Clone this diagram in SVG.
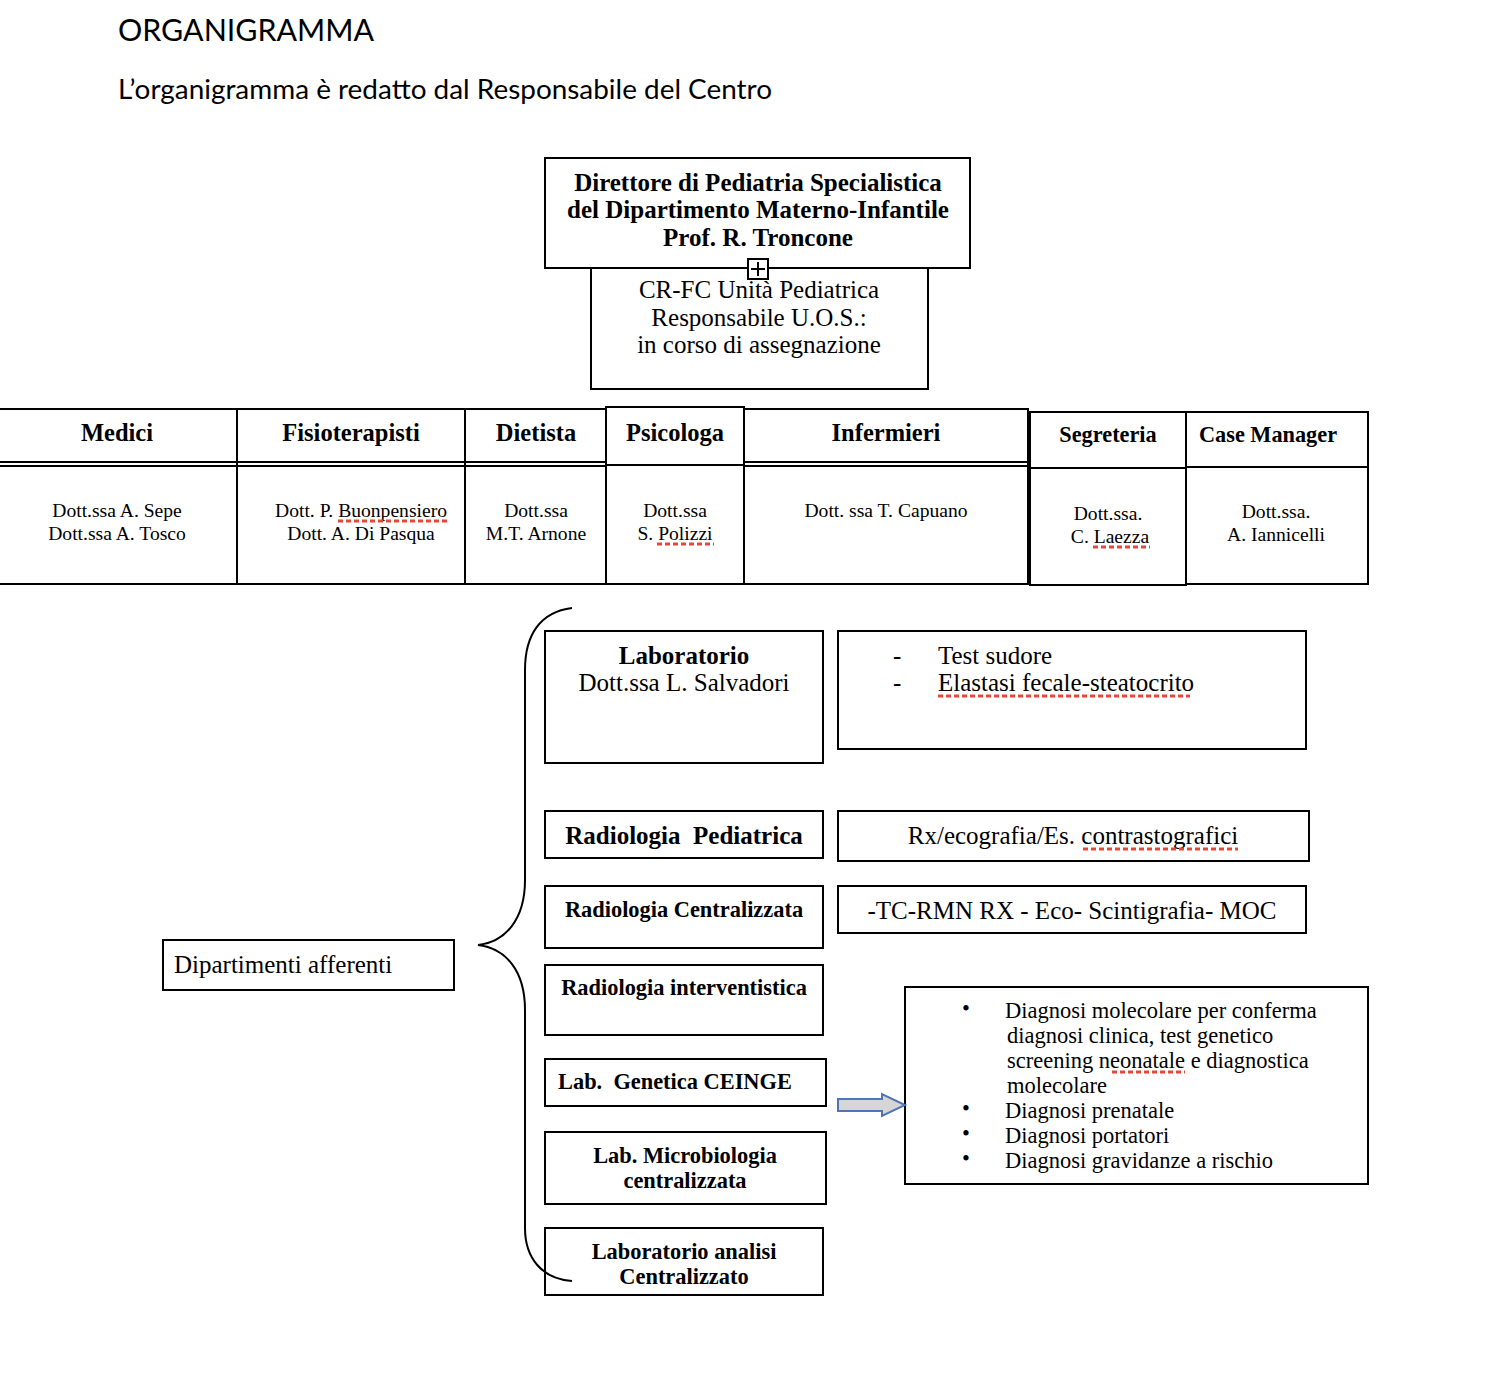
<svg xmlns="http://www.w3.org/2000/svg" width="1496" height="1374" viewBox="0 0 1496 1374">
<style>
.box{fill:#fff;stroke:#000;stroke-width:2}
.ln{stroke:#000;stroke-width:2;fill:none}
.h{font-family:"Lato","Open Sans",sans-serif;fill:#000}
.s{font-family:"Liberation Serif","Times New Roman",serif;fill:#000}
.b{font-weight:bold}
.c{text-anchor:middle}
.sq{stroke:#e8463a;stroke-width:3;stroke-dasharray:5,3;fill:none}
</style>
<rect width="1496" height="1374" fill="#fff"/>
<text class="h" x="118" y="41" font-size="31" textLength="256" lengthAdjust="spacingAndGlyphs">ORGANIGRAMMA</text>
<text class="h" x="118" y="99" font-size="27" textLength="654" lengthAdjust="spacingAndGlyphs">L’organigramma è redatto dal Responsabile del Centro</text>

<g id="cr-fc">
<rect class="box" x="591" y="268" width="337" height="121"/>
<text class="s c" font-size="25" x="759" y="298">CR-FC Unità Pediatrica</text>
<text class="s c" font-size="25" x="759" y="326">Responsabile U.O.S.:</text>
<text class="s c" font-size="25" x="759" y="353">in corso di assegnazione</text>
</g>
<g id="direttore">
<rect class="box" x="545" y="158" width="425" height="110"/>
<text class="s b c" font-size="25" x="758" y="191">Direttore di Pediatria Specialistica</text>
<text class="s b c" font-size="25" x="758" y="218">del Dipartimento Materno-Infantile</text>
<text class="s b c" font-size="25" x="758" y="246">Prof. R. Troncone</text>
</g>
<g id="plus">
<rect x="748" y="259" width="20" height="20" fill="#fff" stroke="#000" stroke-width="2"/>
<path class="ln" d="M758 262V276M751 269H765" stroke-width="1.5"/>
</g>

<g id="table">
<g id="medici">
<path class="ln" d="M0 409H237V584H0M0 462H237M0 466H237"/>
<text class="s b c" font-size="24.5" x="117" y="441">Medici</text>
<text class="s c" font-size="19.6" x="117" y="517">Dott.ssa A. Sepe</text>
<text class="s c" font-size="19.6" x="117" y="540">Dott.ssa A. Tosco</text>
</g>
<g id="fisioterapisti">
<path class="ln" d="M237 409H465V584H237M237 462H465M237 466H465"/>
<text class="s b c" font-size="24.5" x="351" y="441">Fisioterapisti</text>
<text class="s c" font-size="19.6" x="361" y="517">Dott. P. Buonpensiero</text>
<text class="s c" font-size="19.6" x="361" y="540">Dott. A. Di Pasqua</text>
<path class="sq" d="M338 521H447"/>
</g>
<g id="dietista">
<path class="ln" d="M465 409H606V584H465M465 462H606M465 466H606"/>
<text class="s b c" font-size="24.5" x="536" y="441">Dietista</text>
<text class="s c" font-size="19.6" x="536" y="517">Dott.ssa</text>
<text class="s c" font-size="19.6" x="536" y="540">M.T. Arnone</text>
</g>
<g id="psicologa">
<path class="ln" d="M606 407H744V584H606ZM606 465H744"/>
<text class="s b c" font-size="24.5" x="675" y="441">Psicologa</text>
<text class="s c" font-size="19.6" x="675" y="517">Dott.ssa</text>
<text class="s c" font-size="19.6" x="675" y="540">S. Polizzi</text>
<path class="sq" d="M657 544H714"/>
</g>
<g id="infermieri">
<path class="ln" d="M744 409H1028V584H744M744 462H1028M744 466H1028"/>
<text class="s b c" font-size="24.5" x="886" y="441">Infermieri</text>
<text class="s c" font-size="19.6" x="886" y="517">Dott. ssa T. Capuano</text>
</g>
<g id="segreteria">
<path class="ln" d="M1030 412H1186V585H1030ZM1030 468H1186"/>
<text class="s b c" font-size="22.3" x="1108" y="442">Segreteria</text>
<text class="s c" font-size="19.6" x="1108" y="520">Dott.ssa.</text>
<text class="s c" font-size="19.6" x="1110" y="543">C. Laezza</text>
<path class="sq" d="M1093 547H1150"/>
</g>
<g id="case-manager">
<path class="ln" d="M1186 412H1368V584H1186ZM1186 467H1368"/>
<text class="s b c" font-size="22.3" x="1268" y="442">Case Manager</text>
<text class="s c" font-size="19.6" x="1276" y="518">Dott.ssa.</text>
<text class="s c" font-size="19.6" x="1276" y="541">A. Iannicelli</text>
</g>
</g>

<g id="dipartimenti">
<rect class="box" x="163" y="940" width="291" height="50"/>
<text class="s" font-size="25" x="174" y="973">Dipartimenti afferenti</text>
</g>

<g id="laboratorio">
<rect class="box" x="545" y="631" width="278" height="132"/>
<text class="s b c" font-size="25" x="684" y="664">Laboratorio</text>
<text class="s c" font-size="25" x="684" y="691">Dott.ssa L. Salvadori</text>
</g>
<g id="lab-tests">
<rect class="box" x="838" y="631" width="468" height="118"/>
<text class="s" font-size="25" x="893" y="664">-</text>
<text class="s" font-size="25" x="938" y="664">Test sudore</text>
<text class="s" font-size="25" x="893" y="691">-</text>
<text class="s" font-size="25" x="938" y="691">Elastasi fecale-steatocrito</text>
<path class="sq" d="M938 696H1190"/>
</g>

<g id="rad-pediatrica">
<rect class="box" x="545" y="811" width="278" height="47"/>
<text class="s b c" font-size="25" x="684" y="844" xml:space="preserve">Radiologia  Pediatrica</text>
</g>
<g id="rad-ped-esami">
<rect class="box" x="838" y="811" width="471" height="50"/>
<text class="s c" font-size="25" x="1073" y="844">Rx/ecografia/Es. contrastografici</text>
<path class="sq" d="M1083 849H1238"/>
</g>

<g id="rad-centralizzata">
<rect class="box" x="545" y="886" width="278" height="62"/>
<text class="s b c" font-size="22.4" x="684" y="917">Radiologia Centralizzata</text>
</g>
<g id="rad-centr-esami">
<rect class="box" x="838" y="886" width="468" height="47"/>
<text class="s c" font-size="25" x="1072" y="919">-TC-RMN RX - Eco- Scintigrafia- MOC</text>
</g>

<g id="rad-interventistica">
<rect class="box" x="545" y="965" width="278" height="70"/>
<text class="s b c" font-size="22.4" x="684" y="995">Radiologia interventistica</text>
</g>

<g id="lab-genetica">
<rect class="box" x="545" y="1059" width="281" height="47"/>
<text class="s b" font-size="22.4" x="558" y="1089" xml:space="preserve">Lab.  Genetica CEINGE</text>
</g>

<g id="genetica-servizi">
<rect class="box" x="905" y="987" width="463" height="197"/>
<g class="s" font-size="22.5">
<text x="962" y="1016">•</text>
<text x="1005" y="1018">Diagnosi molecolare per conferma</text>
<text x="1007" y="1043">diagnosi clinica, test genetico</text>
<text x="1007" y="1068">screening neonatale e diagnostica</text>
<text x="1007" y="1093">molecolare</text>
<text x="962" y="1116">•</text>
<text x="1005" y="1118">Diagnosi prenatale</text>
<text x="962" y="1141">•</text>
<text x="1005" y="1143">Diagnosi portatori</text>
<text x="962" y="1166">•</text>
<text x="1005" y="1168">Diagnosi gravidanze a rischio</text>
</g>
<path class="sq" d="M1112 1072H1185"/>
</g>

<g id="lab-microbiologia">
<rect class="box" x="545" y="1132" width="281" height="72"/>
<text class="s b c" font-size="22.4" x="685" y="1163">Lab. Microbiologia</text>
<text class="s b c" font-size="22.4" x="685" y="1188">centralizzata</text>
</g>

<g id="lab-analisi">
<rect class="box" x="545" y="1228" width="278" height="67"/>
<text class="s b c" font-size="22.4" x="684" y="1259">Laboratorio analisi</text>
<text class="s b c" font-size="22.4" x="684" y="1284">Centralizzato</text>
</g>

<g id="connectors">
<path id="brace" class="ln" d="M572 608C540 612 525 635 525 670V880C525 920 505 942 478 945C505 948 525 970 525 1010V1228C525 1258 542 1279 572 1281"/>
<path id="arrow" d="M838 1099H882V1094L905 1105L882 1116V1111H838Z" fill="#d6d6d6" stroke="#4f75b8" stroke-width="2"/>
</g>
</svg>
